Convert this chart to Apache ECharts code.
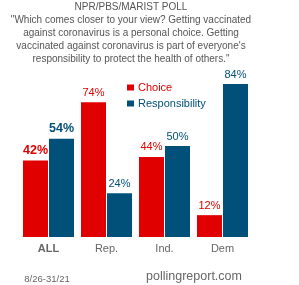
<!DOCTYPE html>
<html><head><meta charset="utf-8">
<script src="https://cdn.jsdelivr.net/npm/echarts@6/dist/echarts.min.js"></script>
<style>html,body{margin:0;padding:0;background:#fff}#c{width:299px;height:285px}</style>
</head><body><div id="c"></div>
<script>
const categories = ['ALL', 'Rep.', 'Ind.', 'Dem'];
const choice = [42, 74, 44, 12];
const responsibility = [54, 24, 50, 84];
const titleLines = [
  'NPR/PBS/MARIST POLL',
  '"Which comes closer to your view? Getting vaccinated',
  'against coronavirus is a personal choice. Getting',
  'vaccinated against coronavirus is part of everyone\'s',
  'responsibility to protect the health of others."'
];
const RED = '#e00000', BLUE = '#00507a';
const FONT = 'Liberation Sans';

function mkData(vals) {
  return vals.map((v, i) => ({
    value: v,
    label: i === 0 ? {fontWeight: 'bold', fontSize: 12.5, fontFamily: FONT} : {}
  }));
}

const chart = echarts.init(document.getElementById('c'), null, {renderer: 'canvas'});
chart.setOption({
  animation: false,
  graphic: titleLines.map((t, i) => ({
    type: 'text', x: 131, y: 7 + i * 13,
    style: {text: t, fill: '#555', font: '10px "' + FONT + '"', textAlign: 'center', textVerticalAlign: 'middle'}
  })).concat([
    {type: 'text', x: 47, y: 279, style: {text: '8/26-31/21', fill: '#666', font: '9.5px "' + FONT + '"', textAlign: 'center', textVerticalAlign: 'middle'}},
    {type: 'text', x: 194, y: 277, style: {text: 'pollingreport.com', fill: '#666', font: '12.5px "' + FONT + '"', textAlign: 'center', textVerticalAlign: 'middle'}}
  ]),
  legend: {
    orient: 'vertical', left: 122, top: 77, itemWidth: 7, itemHeight: 6, itemGap: 5,
    icon: 'rect',
    data: [
      {name: 'Choice', textStyle: {color: RED}},
      {name: 'Responsibility', textStyle: {color: BLUE}}
    ],
    textStyle: {fontSize: 11, fontFamily: FONT, padding: [0, 0, 0, -1]}
  },
  grid: {left: 19.5, width: 232, top: 55, bottom: 48, containLabel: false},
  xAxis: {
    type: 'category', data: categories,
    axisLine: {show: false}, axisTick: {show: false},
    axisLabel: {
      color: '#666', fontSize: 11, fontFamily: FONT, margin: 6,
      formatter: v => v === 'ALL' ? '{b|' + v + '}' : v,
      rich: {b: {fontWeight: 'bold', color: '#666', fontSize: 11, fontFamily: FONT}}
    }
  },
  yAxis: {type: 'value', min: 0, max: 100, show: false, splitLine: {show: false}},
  series: [
    {name: 'Choice', type: 'bar', data: mkData(choice), itemStyle: {color: RED}, barWidth: 25, barGap: '4%',
     label: {show: true, position: 'top', distance: 4, color: RED, fontSize: 11, fontFamily: FONT, formatter: '{c}%'}},
    {name: 'Responsibility', type: 'bar', data: mkData(responsibility), itemStyle: {color: BLUE}, barWidth: 25,
     label: {show: true, position: 'top', distance: 4, color: BLUE, fontSize: 11, fontFamily: FONT, formatter: '{c}%'}}
  ]
});
</script></body></html>
